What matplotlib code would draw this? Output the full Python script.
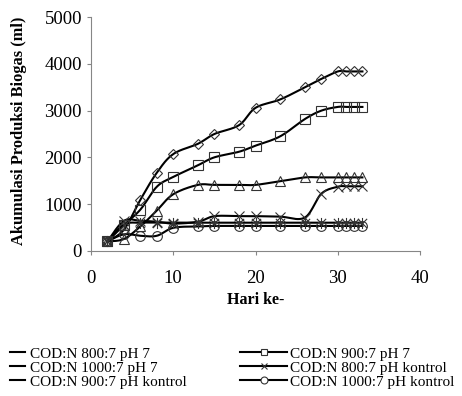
import matplotlib
matplotlib.use("Agg")
import matplotlib.pyplot as plt
import numpy as np
from matplotlib.lines import Line2D
from matplotlib.path import Path

plt.rcParams['font.family'] = ['Liberation Serif', 'DejaVu Serif']

days = [2, 4, 6, 8, 10, 13, 15, 18, 20, 23, 26, 28, 30, 31, 32, 33]

cod800_ph7 = [200, 450, 1090, 1670, 2070, 2290, 2500, 2690, 3060, 3240, 3500, 3680, 3840, 3840, 3840, 3840]
cod900_ph7 = [200, 550, 880, 1370, 1580, 1830, 2000, 2120, 2250, 2450, 2820, 3000, 3080, 3080, 3080, 3080]
cod1000_ph7 = [200, 250, 520, 860, 1210, 1410, 1410, 1410, 1410, 1490, 1570, 1570, 1570, 1570, 1570, 1570]
cod800_kontrol = [200, 640, 640, 620, 580, 620, 740, 740, 740, 730, 710, 1220, 1370, 1380, 1380, 1380]
cod900_kontrol = [200, 560, 600, 600, 600, 600, 600, 600, 600, 600, 600, 600, 600, 600, 600, 600]
cod1000_kontrol = [200, 350, 320, 320, 490, 520, 530, 530, 530, 530, 530, 530, 530, 530, 530, 530]

labels = ["COD:N 800:7 pH 7", "COD:N 900:7 pH 7", "COD:N 1000:7 pH 7",
          "COD:N 800:7 pH kontrol", "COD:N 900:7 pH kontrol", "COD:N 1000:7 pH kontrol"]

# excel style star marker: x with a vertical bar
star = Path([(-1, -1), (1, 1), (-1, 1), (1, -1), (0, -1.2), (0, 1.2)],
            [Path.MOVETO, Path.LINETO, Path.MOVETO, Path.LINETO, Path.MOVETO, Path.LINETO])

series = [
    (cod800_ph7, 'D', 5.0),
    (cod900_ph7, 's', 7.0),
    (cod1000_ph7, '^', 7.5),
    (cod800_kontrol, 'x', 7.0),
    (cod900_kontrol, star, 8.0),
    (cod1000_kontrol, 'o', 7.0),
]


def smooth(x, y, n=24):
    # catmull-rom through the points, like excel's smoothed line
    p = np.column_stack([x, y]).astype(float)
    p = np.vstack([p[0], p, p[-1]])
    out = []
    t = np.linspace(0, 1, n)[:, None]
    for i in range(1, len(p) - 2):
        p0, p1, p2, p3 = p[i - 1], p[i], p[i + 1], p[i + 2]
        c1 = p1 + (p2 - p0) / 6.0
        c2 = p2 - (p3 - p1) / 6.0
        seg = ((1 - t) ** 3) * p1 + 3 * ((1 - t) ** 2) * t * c1 + 3 * (1 - t) * t ** 2 * c2 + t ** 3 * p2
        out.append(seg)
    out = np.vstack(out)
    return out[:, 0], out[:, 1]


fig = plt.figure(figsize=(4.62, 3.96), dpi=100)
ax = fig.add_axes([91 / 462, 1 - 250.7 / 396, 329 / 462, 233.4 / 396])

for vals, mk, ms in series:
    sx, sy = smooth(days, vals)
    ax.plot(sx, sy, color='black', lw=1.5, zorder=3)
    ax.plot(days, vals, ls='none', marker=mk, ms=ms, mfc='none', mec='#333333', mew=0.8, zorder=4)

ax.set_xlim(0, 40)
ax.set_ylim(0, 5000)
ax.set_xticks([0, 10, 20, 30, 40])
ax.set_yticks([0, 1000, 2000, 3000, 4000, 5000])
for s in ['top', 'right']:
    ax.spines[s].set_visible(False)
for s in ['left', 'bottom']:
    ax.spines[s].set_color('#868686')
    ax.spines[s].set_linewidth(0.8)
ax.tick_params(axis='both', direction='out', length=3, width=0.8, color='#868686', labelsize=13.5)
ax.tick_params(axis='x', pad=11)
ax.tick_params(axis='y', pad=3.5)

fig.text(19 / 462, 1 - 130.5 / 396, "Akumulasi Produksi Biogas (ml)", rotation=90,
         ha='center', va='center', fontsize=11.8, fontweight='bold')
fig.text(256 / 462, 1 - 300 / 396, "Hari ke-", ha='center', va='center',
         fontsize=11.5, fontweight='bold')

# legend: excel fills row by row, left column handles have no room for markers
left_idx = [0, 2, 4]
right_idx = [1, 3, 5]
left_h = [Line2D([], [], color='black', lw=1.5) for i in left_idx]
right_h = [Line2D([], [], color='black', lw=1.5, marker=series[i][1], ms=5,
                  mfc='white', mec='#333333', mew=0.8) for i in right_idx]

fig.legend(left_h, [labels[i] for i in left_idx], loc='upper left',
           bbox_to_anchor=(10 / 462, 1 - 347 / 396), frameon=False, fontsize=11,
           handlelength=1.0, handletextpad=0.3, labelspacing=0.02, borderpad=0, borderaxespad=0)
fig.legend(right_h, [labels[i] for i in right_idx], loc='upper left',
           bbox_to_anchor=(240 / 462, 1 - 347 / 396), frameon=False, fontsize=11,
           handlelength=3.1, handletextpad=0.2, labelspacing=0.02, borderpad=0, borderaxespad=0)

fig.savefig("out.png", dpi=100)
